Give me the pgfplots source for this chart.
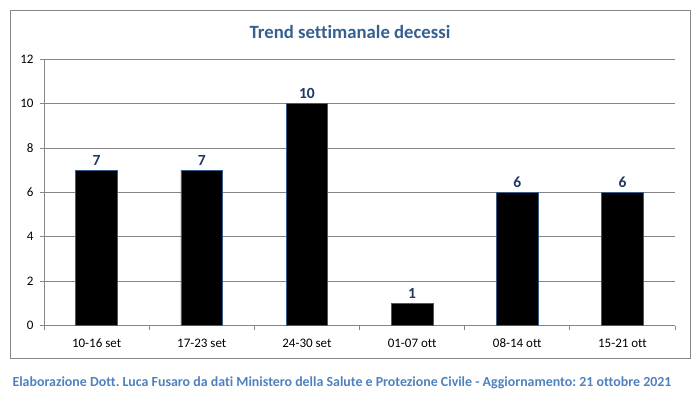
\documentclass[border=0pt]{standalone}
\usepackage{pgfplots}
\pgfplotsset{compat=1.18}
\usepackage{fontspec}
\setmainfont{Carlito}[Ligatures=NoCommon]
\frenchspacing
\definecolor{titlec}{HTML}{365F91}
\definecolor{valc}{HTML}{1F3864}
\definecolor{footc}{HTML}{4F81BD}
\definecolor{barb}{HTML}{385D8A}
\definecolor{gridc}{HTML}{868686}
\begin{document}
\begin{tikzpicture}[x=1bp,y=1bp]
\useasboundingbox (0,0) rectangle (700,-395);
\draw[gridc, line width=1bp] (10,-10) rectangle (690,-358);
\node[text=titlec, font=\fontsize{18.7bp}{22bp}\selectfont\bfseries] at (350,-32) {Trend settimanale decessi};
\node[text=footc, font=\fontsize{13.9bp}{16bp}\selectfont\bfseries, anchor=west] at (9,-383) {Elaborazione Dott. Luca Fusaro da dati Ministero della Salute e Protezione Civile - Aggiornamento: 21 ottobre 2021};
\begin{axis}[
  at={(44bp,-325.7bp)}, anchor=south west,
  scale only axis, width=631bp, height=266.7bp,
  xmin=0.5, xmax=6.5, ymin=0, ymax=12,
  ytick={0,2,...,12},
  xtick={1,...,6},
  xticklabels={10-16 set,17-23 set,24-30 set,01-07 ott,08-14 ott,15-21 ott},
  minor xtick={0.5,1.5,...,6.5},
  major x tick style={draw=none},
  minor tick length=4bp,
  major tick length=4bp,
  tick align=outside,
  tick style={gridc, line width=0.8bp},
  ymajorgrids, grid style={gridc, line width=0.8bp},
  axis x line*=bottom, axis y line*=left,
  axis line style={gridc, line width=0.8bp, -},
  tick label style={font=\fontsize{13bp}{15bp}\selectfont, text=black},
  /pgf/number format/assume math mode=true,
  yticklabel style={xshift=-3bp},
  xticklabel style={yshift=-5bp, text height=9bp, text depth=2bp},
  ybar, bar width=41.7bp,
  nodes near coords,
  every node near coord/.append style={font=\fontsize{15.5bp}{17bp}\selectfont\bfseries, text=valc, yshift=1bp},
  clip=false,
]
\addplot[fill=black, draw=barb, line width=0.8bp] coordinates {(1,7) (2,7) (3,10) (4,1) (5,6) (6,6)};
\end{axis}
\end{tikzpicture}
\end{document}
